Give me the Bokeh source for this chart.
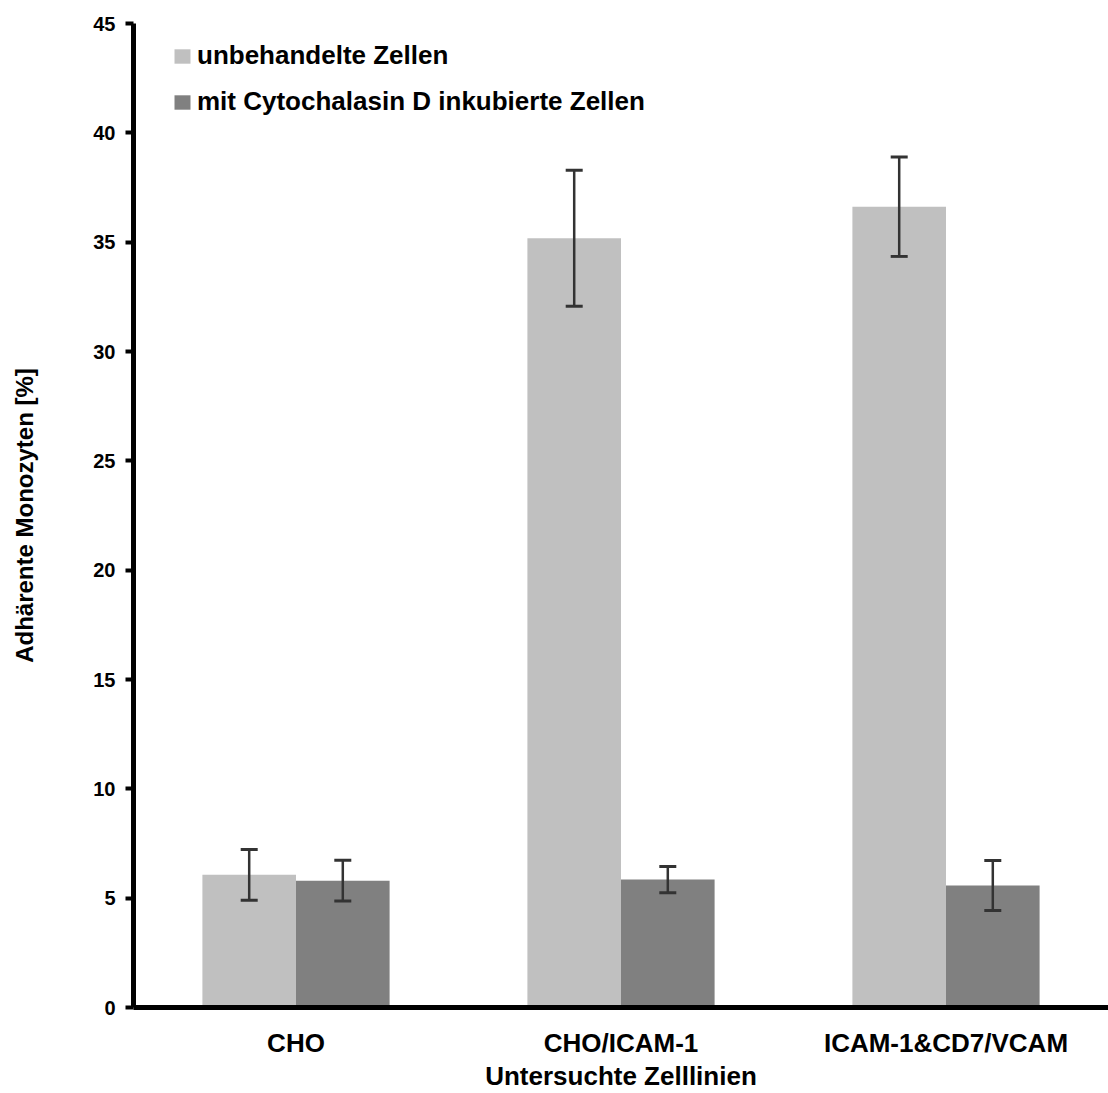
from bokeh.plotting import figure
from bokeh.models import (ColumnDataSource, FactorRange, Range1d, Whisker, TeeHead,
                          Legend, LegendItem, FixedTicker)
from bokeh.transform import dodge
from bokeh.embed import file_html
from bokeh.resources import INLINE

# Cell lines and adhesion results (mean and standard deviation, %)
cell_lines = ["CHO", "CHO/ICAM-1", "ICAM-1&CD7/VCAM"]
untreated = [6.07, 35.18, 36.62]
untreated_sd = [1.16, 3.11, 2.27]
cytochalasin = [5.80, 5.85, 5.58]
cytochalasin_sd = [0.93, 0.60, 1.14]
y_ticks = [0, 5, 10, 15, 20, 25, 30, 35, 40, 45]

FONT = "Liberation Sans"
LIGHT = "#c0c0c0"
DARK = "#808080"
ERR = "#333333"
BAR_W = 0.288
OFF = BAR_W / 2

src = ColumnDataSource(dict(
    cell=cell_lines,
    untreated=untreated,
    untreated_lo=[m - s for m, s in zip(untreated, untreated_sd)],
    untreated_hi=[m + s for m, s in zip(untreated, untreated_sd)],
    cyto=cytochalasin,
    cyto_lo=[m - s for m, s in zip(cytochalasin, cytochalasin_sd)],
    cyto_hi=[m + s for m, s in zip(cytochalasin, cytochalasin_sd)],
))

p = figure(x_range=FactorRange(*cell_lines), y_range=Range1d(0, 45),
           width=1108, height=1093, output_backend="svg", toolbar_location=None,
           min_border_left=133, min_border_right=0, min_border_top=23,
           min_border_bottom=84)

r_light = p.vbar(x=dodge("cell", -OFF, range=p.x_range), top="untreated", width=BAR_W,
                 source=src, fill_color=LIGHT, line_color=None)
r_dark = p.vbar(x=dodge("cell", OFF, range=p.x_range), top="cyto", width=BAR_W,
                source=src, fill_color=DARK, line_color=None)

for xoff, lo, hi in [(-OFF, "untreated_lo", "untreated_hi"), (OFF, "cyto_lo", "cyto_hi")]:
    w = Whisker(base=dodge("cell", xoff, range=p.x_range), lower=lo, upper=hi, source=src,
                line_color=ERR, line_width=2.5, level="overlay",
                lower_head=TeeHead(size=17, line_color=ERR, line_width=3),
                upper_head=TeeHead(size=17, line_color=ERR, line_width=3))
    p.add_layout(w)

legend = Legend(items=[LegendItem(label="unbehandelte Zellen", renderers=[r_light]),
                       LegendItem(label="mit Cytochalasin D inkubierte Zellen", renderers=[r_dark])],
                location=(39, 890), padding=0, margin=0, spacing=15,
                glyph_width=20, glyph_height=18, label_standoff=5,
                label_text_font=FONT, label_text_font_style="bold",
                label_text_font_size="26px", label_text_color="black",
                border_line_alpha=0, background_fill_alpha=0)
p.add_layout(legend)

p.xgrid.grid_line_color = None
p.ygrid.grid_line_color = None
p.outline_line_color = None

p.yaxis.ticker = FixedTicker(ticks=y_ticks)
p.yaxis.minor_tick_line_color = None
p.yaxis.major_tick_out = 8
p.yaxis.major_tick_in = 0
p.yaxis.major_tick_line_width = 4
p.yaxis.axis_line_width = 5
p.yaxis.major_label_text_font = FONT
p.yaxis.major_label_text_font_style = "bold"
p.yaxis.major_label_text_font_size = "20px"
p.yaxis.major_label_text_color = "black"
p.yaxis.major_label_standoff = 10
p.yaxis.axis_label = "Adhärente Monozyten [%]"
p.yaxis.axis_label_text_font = FONT
p.yaxis.axis_label_text_font_style = "bold"
p.yaxis.axis_label_text_font_size = "24px"
p.yaxis.axis_label_text_color = "black"
p.yaxis.axis_label_standoff = 52

p.xaxis.major_tick_line_color = None
p.xaxis.minor_tick_line_color = None
p.xaxis.axis_line_width = 5
p.xaxis.major_label_text_font = FONT
p.xaxis.major_label_text_font_style = "bold"
p.xaxis.major_label_text_font_size = "26px"
p.xaxis.major_label_text_color = "black"
p.xaxis.major_label_standoff = 14
p.xaxis.axis_label = "Untersuchte Zelllinien"
p.xaxis.axis_label_text_font = FONT
p.xaxis.axis_label_text_font_style = "bold"
p.xaxis.axis_label_text_font_size = "26px"
p.xaxis.axis_label_text_color = "black"
p.xaxis.axis_label_standoff = 0

open("out.html", "w").write(file_html(p, INLINE))
